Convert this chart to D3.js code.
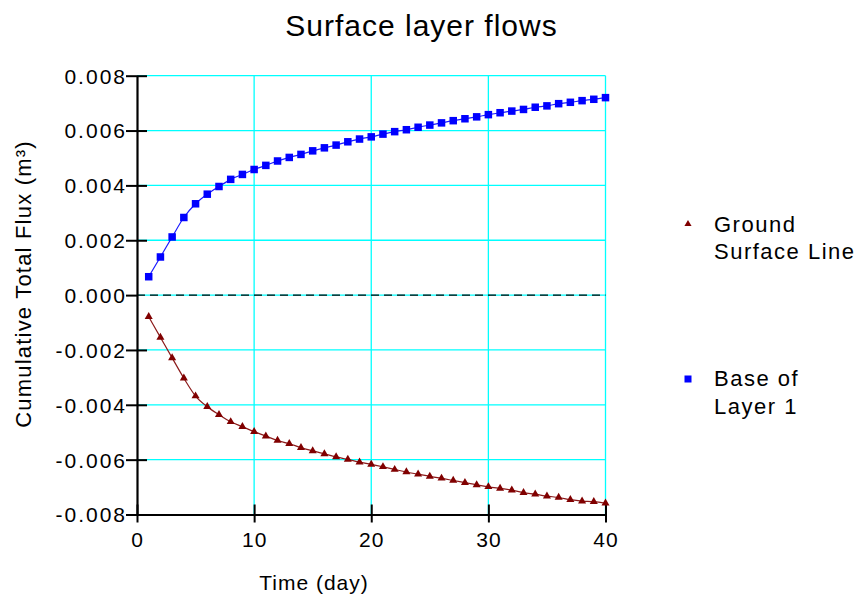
<!DOCTYPE html>
<html>
<head>
<meta charset="utf-8">
<script src="https://cdn.jsdelivr.net/npm/d3@7"></script>
<style>
  html, body { margin: 0; padding: 0; background: #fff; }
  text { font-family: "Liberation Sans", Arial, sans-serif; fill: #000; }
</style>
</head>
<body>
<svg id="chart" width="858" height="597"></svg>
<script>
const days = d3.range(1, 41);
const baseOfLayer1 = [0.00067,0.00139,0.00212,0.00283,0.00333,0.00368,0.00396,0.00422,0.00440,0.00458,
  0.00473,0.00489,0.00502,0.00513,0.00526,0.00537,0.00547,0.00559,0.00569,0.00577,
  0.00587,0.00596,0.00603,0.00612,0.00620,0.00628,0.00636,0.00643,0.00650,0.00658,
  0.00665,0.00671,0.00677,0.00685,0.00690,0.00698,0.00703,0.00709,0.00714,0.00720];
const groundSurfaceLine = [-0.00079,-0.00154,-0.00229,-0.00303,-0.00368,-0.00407,-0.00436,-0.00462,-0.00480,-0.00498,
  -0.00514,-0.00530,-0.00542,-0.00556,-0.00568,-0.00579,-0.00590,-0.00599,-0.00609,-0.00617,
  -0.00626,-0.00636,-0.00645,-0.00653,-0.00661,-0.00668,-0.00676,-0.00684,-0.00692,-0.00699,
  -0.00705,-0.00711,-0.00720,-0.00726,-0.00733,-0.00738,-0.00746,-0.00751,-0.00753,-0.00759];
const xTicks = [0, 10, 20, 30, 40];
const yTicks = [-0.008, -0.006, -0.004, -0.002, 0, 0.002, 0.004, 0.006, 0.008];
const seriesNames = ["Ground Surface Line", "Base of Layer 1"];

const svg = d3.select("#chart");
const pL = 137, pR = 605.5, pT = 75.7, pB = 514.5;
const x = d3.scaleLinear().domain([0, 40]).range([pL, pR]);
const y = d3.scaleLinear().domain([-0.008, 0.008]).range([pB, pT]);

// grid
const grid = svg.append("g");
grid.selectAll(".vg").data(xTicks.filter(d => d > 0)).enter().append("line")
  .attr("x1", d => x(d)).attr("x2", d => x(d)).attr("y1", pT).attr("y2", pB)
  .attr("stroke", "#00ffff").attr("stroke-width", 1.3);
grid.selectAll(".hg").data(yTicks.filter(d => d > -0.008)).enter().append("line")
  .attr("x1", pL).attr("x2", pR).attr("y1", d => y(d)).attr("y2", d => y(d))
  .attr("stroke", "#00ffff").attr("stroke-width", 1.3);
// zero dashed line
svg.append("line").attr("x1", pL).attr("x2", pR).attr("y1", y(0)).attr("y2", y(0))
  .attr("stroke", "#000").attr("stroke-width", 1.2).attr("stroke-dasharray", "8,5");

// axes
const xAxis = d3.axisBottom(x).tickValues(xTicks).tickFormat(d3.format("d")).tickSizeInner(0).tickSizeOuter(0).tickPadding(18);
const gx = svg.append("g").attr("transform", `translate(0,${pB})`).call(xAxis);
gx.select(".domain").attr("stroke", "#000").attr("stroke-width", 2.2);
gx.selectAll(".tick line").attr("y1", -10).attr("y2", 8).attr("stroke", "#000").attr("stroke-width", 2);
gx.selectAll(".tick text").style("font-size", "21px").style("letter-spacing", "1px").attr("dy", "0.71em");

const fmtY = d => d3.format(".3f")(d).replace("\u2212", "-");
const yAxis = d3.axisLeft(y).tickValues(yTicks).tickFormat(fmtY).tickSizeInner(0).tickSizeOuter(0).tickPadding(10);
const gy = svg.append("g").attr("transform", `translate(${pL},0)`).call(yAxis);
gy.select(".domain").attr("stroke", "#000").attr("stroke-width", 2.2);
gy.selectAll(".tick line").attr("x1", -11).attr("x2", d => (d === -0.008 || d === 0) ? 0 : 10).attr("stroke", "#000").attr("stroke-width", 2);
gy.selectAll(".tick text").style("font-size", "21px").style("letter-spacing", "2px").attr("dy", "0.35em");
svg.selectAll(".domain").attr("fill", "none");

// lines
const line = d3.line().x((d, i) => x(days[i])).y(d => y(d)).curve(d3.curveMonotoneX);
svg.append("path").datum(baseOfLayer1).attr("d", line).attr("fill", "none").attr("stroke", "#1a1aff").attr("stroke-width", 1.2);
svg.append("path").datum(groundSurfaceLine).attr("d", line).attr("fill", "none").attr("stroke", "#8b1a1a").attr("stroke-width", 1.2);

// markers
const sq = 7.5;
svg.selectAll(".sq").data(baseOfLayer1).enter().append("rect")
  .attr("x", (d, i) => x(days[i]) - sq / 2).attr("y", d => y(d) - sq / 2)
  .attr("width", sq).attr("height", sq).attr("fill", "#0000ff");
const tri = d3.symbol().type(d3.symbolTriangle).size(28);
svg.selectAll(".tri").data(groundSurfaceLine).enter().append("path")
  .attr("d", tri).attr("transform", (d, i) => `translate(${x(days[i])},${y(d)})`)
  .attr("fill", "#800000");

// title and labels
svg.append("text").attr("x", 421.5).attr("y", 36).attr("text-anchor", "middle")
  .style("font-size", "30px").style("letter-spacing", "1px").text("Surface layer flows");
svg.append("text").attr("x", 314).attr("y", 590).attr("text-anchor", "middle")
  .style("font-size", "21px").style("letter-spacing", "1px").text("Time (day)");
svg.append("text").attr("transform", "translate(31,284) rotate(-90)").attr("text-anchor", "middle")
  .style("font-size", "22px").style("letter-spacing", "1.2px").text("Cumulative Total Flux (m³)");

// legend
const leg = svg.append("g");
leg.append("path").attr("d", d3.symbol().type(d3.symbolTriangle).size(22)).attr("transform", "translate(688,224)").attr("fill", "#800000");
leg.append("rect").attr("x", 684.5).attr("y", 375.5).attr("width", 7).attr("height", 7).attr("fill", "#0000ff");
const legText = [[seriesNames[0].split(" ")[0], seriesNames[0].split(" ").slice(1).join(" "), 231.7],
                 ["Base of", "Layer 1", 386]];
legText.forEach(([a, b, by]) => {
  const t = leg.append("text").attr("x", 714).attr("y", by).style("font-size", "22px").style("letter-spacing", "1.5px");
  t.append("tspan").attr("x", 714).text(a);
  t.append("tspan").attr("x", 714).attr("dy", 27.5).text(b);
});
</script>
</body>
</html>
